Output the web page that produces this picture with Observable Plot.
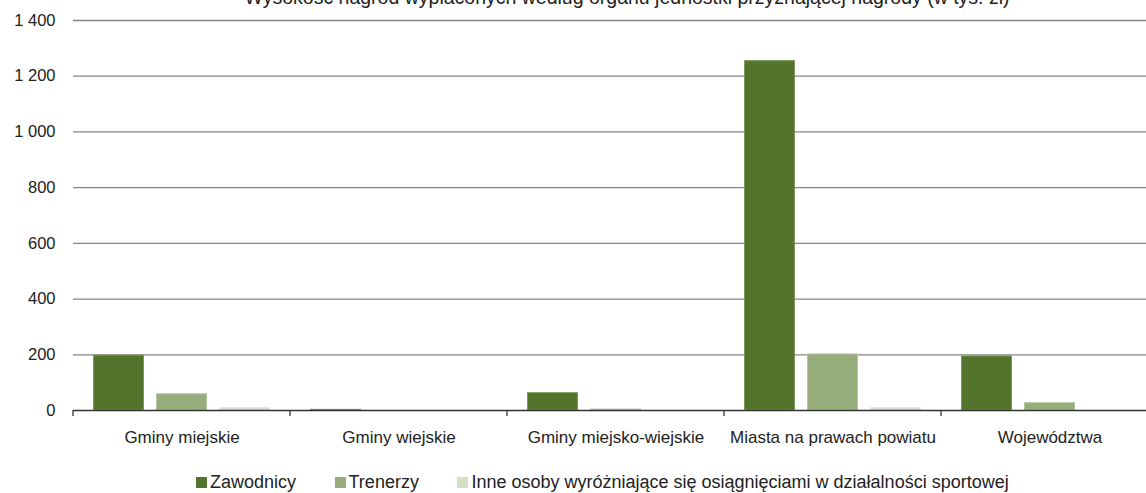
<!DOCTYPE html>
<html>
<head>
<meta charset="utf-8">
<script src="https://cdn.jsdelivr.net/npm/d3@7"></script>
<script src="https://cdn.jsdelivr.net/npm/@observablehq/plot@0.6"></script>
<style>
  html, body { margin: 0; padding: 0; background: #fff; overflow: hidden; }
  body { width: 1146px; height: 493px; position: relative; font-family: "Liberation Sans", Arial, sans-serif; color: #222; }
  #title { position: absolute; top: -14px; left: 0; width: 1146px; text-align: center; font-size: 19.5px; line-height: 22px; padding-left: 108px; box-sizing: border-box; white-space: nowrap; z-index: 2; }
  #chart { position: absolute; top: 0; left: 0; }
  #legend { position: absolute; top: 473px; left: 196px; display: flex; align-items: center; font-size: 18px; line-height: 19px; white-space: nowrap; }
  .item { display: flex; align-items: center; margin-right: 38.5px; }
  .sw { width: 11px; height: 11px; margin-right: 3px; display: inline-block; }
</style>
</head>
<body>
<div id="title"></div>
<div id="chart"></div>
<div id="legend"></div>
<script>
const titleText = "Wysokość nagród wypłaconych według organu jednostki przyznającej nagrody (w tys. zł)";
const categories = ["Gminy miejskie", "Gminy wiejskie", "Gminy miejsko-wiejskie", "Miasta na prawach powiatu", "Województwa"];
const series = ["Zawodnicy", "Trenerzy", "Inne osoby wyróżniające się osiągnięciami w działalności sportowej"];
const zawodnicy = [199, 4, 64, 1256, 196];
const trenerzy = [60, 0, 5, 203, 28];
const inne = [10, 0, 1, 10, 0];
const colors = ["#52752b", "#97ad7c", "#d5dfc8"];
const strokes = ["#7d9a5e", "#b3c4a0", "#e4eadc"];
const yTicks = [0, 200, 400, 600, 800, 1000, 1200, 1400];

const values = [zawodnicy, trenerzy, inne];
const data = [];
categories.forEach((c, i) => series.forEach((s, j) => data.push({category: c, series: s, value: values[j][i]})));

const fmt = d3.formatLocale({thousands: " ", grouping: [3], decimal: ","}).format(",d");
const font = '"Liberation Sans", Arial, sans-serif';

const plot = Plot.plot({
  width: 1146,
  height: 455,
  marginLeft: 73,
  marginRight: -12,
  marginTop: 20,
  marginBottom: 45,
  style: {fontFamily: font, fontSize: "17px", color: "#222", background: "transparent", overflow: "visible"},
  fx: {domain: categories, paddingInner: 0, paddingOuter: 0, label: null},
  x: {domain: series, paddingInner: 0.197, paddingOuter: 0.307, axis: null},
  y: {domain: [0, 1400], ticks: yTicks, label: null},
  color: {domain: series, range: colors},
  marks: [
    Plot.ruleY(yTicks.filter(d => d > 0), {stroke: "#858585", strokeWidth: 1.3}),
    Plot.barY(data, {fx: "category", x: "series", y: "value", fill: "series",
      stroke: d => strokes[series.indexOf(d.series)], strokeWidth: 1, insetTop: 0.5, insetLeft: 0.5, insetRight: 0.5}),
    Plot.ruleY([0], {stroke: "#333", strokeWidth: 1.3}),
    Plot.axisY({ticks: yTicks, tickSize: 0, tickPadding: 18, tickFormat: fmt, fontSize: 16.5, label: null}),
    Plot.axisFx({anchor: "bottom", tickSize: 0, tickPadding: 20, fontSize: 17, label: null})
  ]
});

// band-boundary ticks on the baseline, positioned from the library's fx and y scales
const fx = plot.scale("fx");
const ys = plot.scale("y");
const y0 = ys.apply(0);
const svg = d3.select(plot);
categories.forEach(c => {
  const x = fx.apply(c);
  svg.append("line").attr("x1", x).attr("x2", x).attr("y1", y0).attr("y2", y0 + 6)
    .attr("stroke", "#333").attr("stroke-width", 1.3);
});

document.getElementById("chart").appendChild(plot);
document.getElementById("title").textContent = titleText;

const legend = document.getElementById("legend");
series.forEach((s, i) => {
  const item = document.createElement("div");
  item.className = "item";
  const sw = document.createElement("span");
  sw.className = "sw";
  sw.style.background = colors[i];
  const t = document.createElement("span");
  t.textContent = s;
  item.appendChild(sw);
  item.appendChild(t);
  legend.appendChild(item);
});
</script>
</body>
</html>
